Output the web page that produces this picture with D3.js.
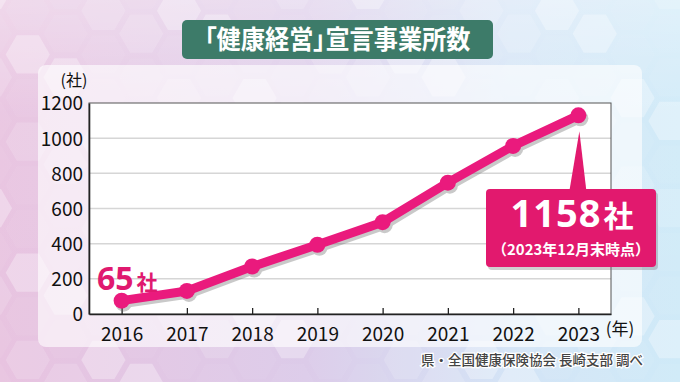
<!DOCTYPE html>
<html><head><meta charset="utf-8">
<script src="https://cdn.jsdelivr.net/npm/d3@7"></script>
<style>
html,body{margin:0;padding:0;background:#fff;}
svg{display:block;}
text{font-family:"Noto Sans CJK JP","Noto Sans",sans-serif;}
.title{font-feature-settings:"palt";}
</style></head>
<body>
<svg id="chart" width="680" height="382"></svg>
<script>
// ---- data ----
const years = ["2016","2017","2018","2019","2020","2021","2022","2023"];
const counts = [76, 131, 270, 394, 522, 747, 956, 1130];
const yTicks = [0, 200, 400, 600, 800, 1000, 1200];
const titleText = "「健康経営」宣言事業所数";
const firstLabel = ["65", "社"];
const lastLabel = ["1158", "社"];
const lastSub = "（2023年12月末時点）";
const yUnit = "(社)";
const xUnit = "(年)";
const sourceText = "県・全国健康保険協会 長崎支部 調べ";

const W = 680, H = 382;
const svg = d3.select("#chart");
const defs = svg.append("defs");

// background gradient
const bg = defs.append("linearGradient").attr("id","bg").attr("x1","0").attr("x2","1").attr("y1","0").attr("y2","0");
bg.append("stop").attr("offset","0").attr("stop-color","#e8c3e0");
bg.append("stop").attr("offset","0.45").attr("stop-color","#dccbe9");
bg.append("stop").attr("offset","0.75").attr("stop-color","#d4e4f6");
bg.append("stop").attr("offset","1").attr("stop-color","#cfeaf8");
svg.append("rect").attr("width",W).attr("height",H).attr("fill","url(#bg)");
const topFade = defs.append("linearGradient").attr("id","topFade").attr("x1","0").attr("x2","0").attr("y1","0").attr("y2","1");
topFade.append("stop").attr("offset","0").attr("stop-color","#fff").attr("stop-opacity",0.35);
topFade.append("stop").attr("offset","0.3").attr("stop-color","#fff").attr("stop-opacity",0.05);
topFade.append("stop").attr("offset","1").attr("stop-color","#fff").attr("stop-opacity",0);
svg.append("rect").attr("width",W).attr("height",H).attr("fill","url(#topFade)");

// hexagon decoration
const hexR = 24;
function hexPath(cx, cy, r){
  const p = d3.range(6).map(i => { const a = Math.PI/3*i; return [cx + r*Math.cos(a), cy + r*Math.sin(a)]; });
  return "M" + p.map(q => q.join(",")).join("L") + "Z";
}
const hexG = svg.append("g");
for (let col = 0; col < 20; col++) {
  for (let row = 0; row < 10; row++) {
    const cx = col * hexR * 1.5 * 1.05 - 10;
    const cy = row * hexR * Math.sqrt(3) * 1.05 + (col % 2 ? hexR * Math.sqrt(3) / 2 : 0) - 10;
    const k = (col * 7 + row * 13) % 5;
    hexG.append("path").attr("d", hexPath(cx, cy, hexR * 0.92))
      .attr("fill", "#fff").attr("opacity", k === 0 ? 0.3 : (k === 1 ? 0.15 : 0.05));
  }
}

// translucent panel
svg.append("rect").attr("x",38).attr("y",65).attr("width",604).attr("height",282).attr("rx",8)
  .attr("fill","#fff").attr("opacity",0.62);

// title
svg.append("rect").attr("x",182).attr("y",20).attr("width",311).attr("height",39).attr("rx",5).attr("fill","#3d7b69");
svg.append("text").attr("class","title").attr("x",337.5).attr("y",49).attr("text-anchor","middle")
  .attr("fill","#fff").attr("font-size",26).attr("font-weight",700)
  .attr("textLength",266).attr("lengthAdjust","spacingAndGlyphs")
  .text(titleText);

// plot
const m = {l:89, r:611, t:103, b:314};
const x = d3.scalePoint().domain(years).range([m.l, m.r]).padding(0.5);
const y = d3.scaleLinear().domain([0,1200]).range([m.b, m.t]);

svg.append("rect").attr("x",m.l).attr("y",m.t).attr("width",m.r-m.l).attr("height",m.b-m.t).attr("fill","#fff");

// gridlines
svg.append("g").selectAll("line").data(yTicks.filter(d => d > 0 && d < 1200)).join("line")
  .attr("x1",m.l).attr("x2",m.r).attr("y1",d=>y(d)).attr("y2",d=>y(d))
  .attr("stroke","#d6d6d6").attr("stroke-width",1.5);

// border
svg.append("rect").attr("x",m.l).attr("y",m.t).attr("width",m.r-m.l).attr("height",m.b-m.t)
  .attr("fill","none").attr("stroke","#555").attr("stroke-width",1);

// axes
const yAxis = svg.append("g").attr("transform",`translate(${m.l},0)`)
  .call(d3.axisLeft(y).tickValues(yTicks).tickFormat(d3.format("d")).tickSize(0).tickPadding(6));
yAxis.select(".domain").attr("stroke","#222").attr("stroke-width",1.6);
yAxis.selectAll("text").attr("font-family","'Noto Sans',sans-serif").attr("font-size",19).attr("fill","#111").attr("dy","0.36em");

const xAxis = svg.append("g").attr("transform",`translate(0,${m.b})`)
  .call(d3.axisBottom(x).tickSizeInner(-6).tickSizeOuter(0).tickPadding(14));
xAxis.select(".domain").attr("stroke","#222").attr("stroke-width",1.6);
xAxis.selectAll(".tick line").attr("stroke","#222").attr("stroke-width",1.3);
xAxis.selectAll("text").attr("font-family","'Noto Sans',sans-serif").attr("font-size",19).attr("fill","#111").attr("dy","0.71em");

svg.append("text").attr("x",74).attr("y",86).attr("text-anchor","middle").attr("font-size",16).attr("fill","#111").text(yUnit);
svg.append("text").attr("x",620).attr("y",335).attr("text-anchor","middle").attr("font-size",17).attr("fill","#111").text(xUnit);

// line with shadow
const pts = years.map((yr,i) => [x(yr), y(counts[i])]);
const line = d3.line();
const pink = "#ea1a7d";
const sh = svg.append("g").attr("transform","translate(2,3)").attr("opacity",0.35);
sh.append("path").attr("d",line(pts)).attr("fill","none").attr("stroke","#666").attr("stroke-width",9).attr("stroke-linejoin","round");
sh.selectAll("circle").data(pts).join("circle").attr("cx",d=>d[0]).attr("cy",d=>d[1]).attr("r",8).attr("fill","#666");
svg.append("path").attr("d",line(pts)).attr("fill","none").attr("stroke",pink).attr("stroke-width",9).attr("stroke-linejoin","round");
svg.selectAll("circle.pt").data(pts).join("circle").attr("class","pt")
  .attr("cx",d=>d[0]).attr("cy",d=>d[1]).attr("r",8).attr("fill",pink);

// first label
const fl = svg.append("text").attr("x",97).attr("y",290).attr("fill","#e0196f").attr("font-weight",700);
fl.append("tspan").attr("font-family","'Noto Sans',sans-serif").attr("font-size",32).text(firstLabel[0]);
fl.append("tspan").attr("font-size",21).attr("dx",3).text(firstLabel[1]);

// callout
const last = pts[pts.length-1];
const calloutCol = "#e2196e";
const bx = 486, by = 189, bw = 170, bh = 78;
const cg = svg.append("g");
cg.append("rect").attr("x",bx+2).attr("y",by+3).attr("width",bw).attr("height",bh).attr("rx",4).attr("fill","#777").attr("opacity",0.35);
cg.append("path").attr("d",`M${last[0]-9},${by+2}L${last[0]+1},${last[1]+16}L${last[0]+8},${by+2}Z`).attr("fill",calloutCol);
cg.append("rect").attr("x",bx).attr("y",by).attr("width",bw).attr("height",bh).attr("rx",4).attr("fill",calloutCol);
const ll = cg.append("text").attr("x",bx+bw/2+1).attr("y",227).attr("text-anchor","middle").attr("fill","#fff").attr("font-weight",700);
ll.append("tspan").attr("font-family","'Noto Sans',sans-serif").attr("font-size",38).attr("letter-spacing",1).text(lastLabel[0]);
ll.append("tspan").attr("font-size",30).attr("dx",2).text(lastLabel[1]);
cg.append("text").attr("x",bx+bw/2).attr("y",255).attr("text-anchor","middle").attr("fill","#fff")
  .attr("font-weight",700).attr("font-size",15).attr("textLength",158).attr("lengthAdjust","spacingAndGlyphs").text(lastSub);

// source
svg.append("text").attr("x",643).attr("y",365).attr("text-anchor","end").attr("font-size",13.5).attr("font-weight",500)
  .attr("fill","#444").attr("stroke","#fff").attr("stroke-width",2.5).attr("paint-order","stroke").text(sourceText);
</script>
</body></html>
